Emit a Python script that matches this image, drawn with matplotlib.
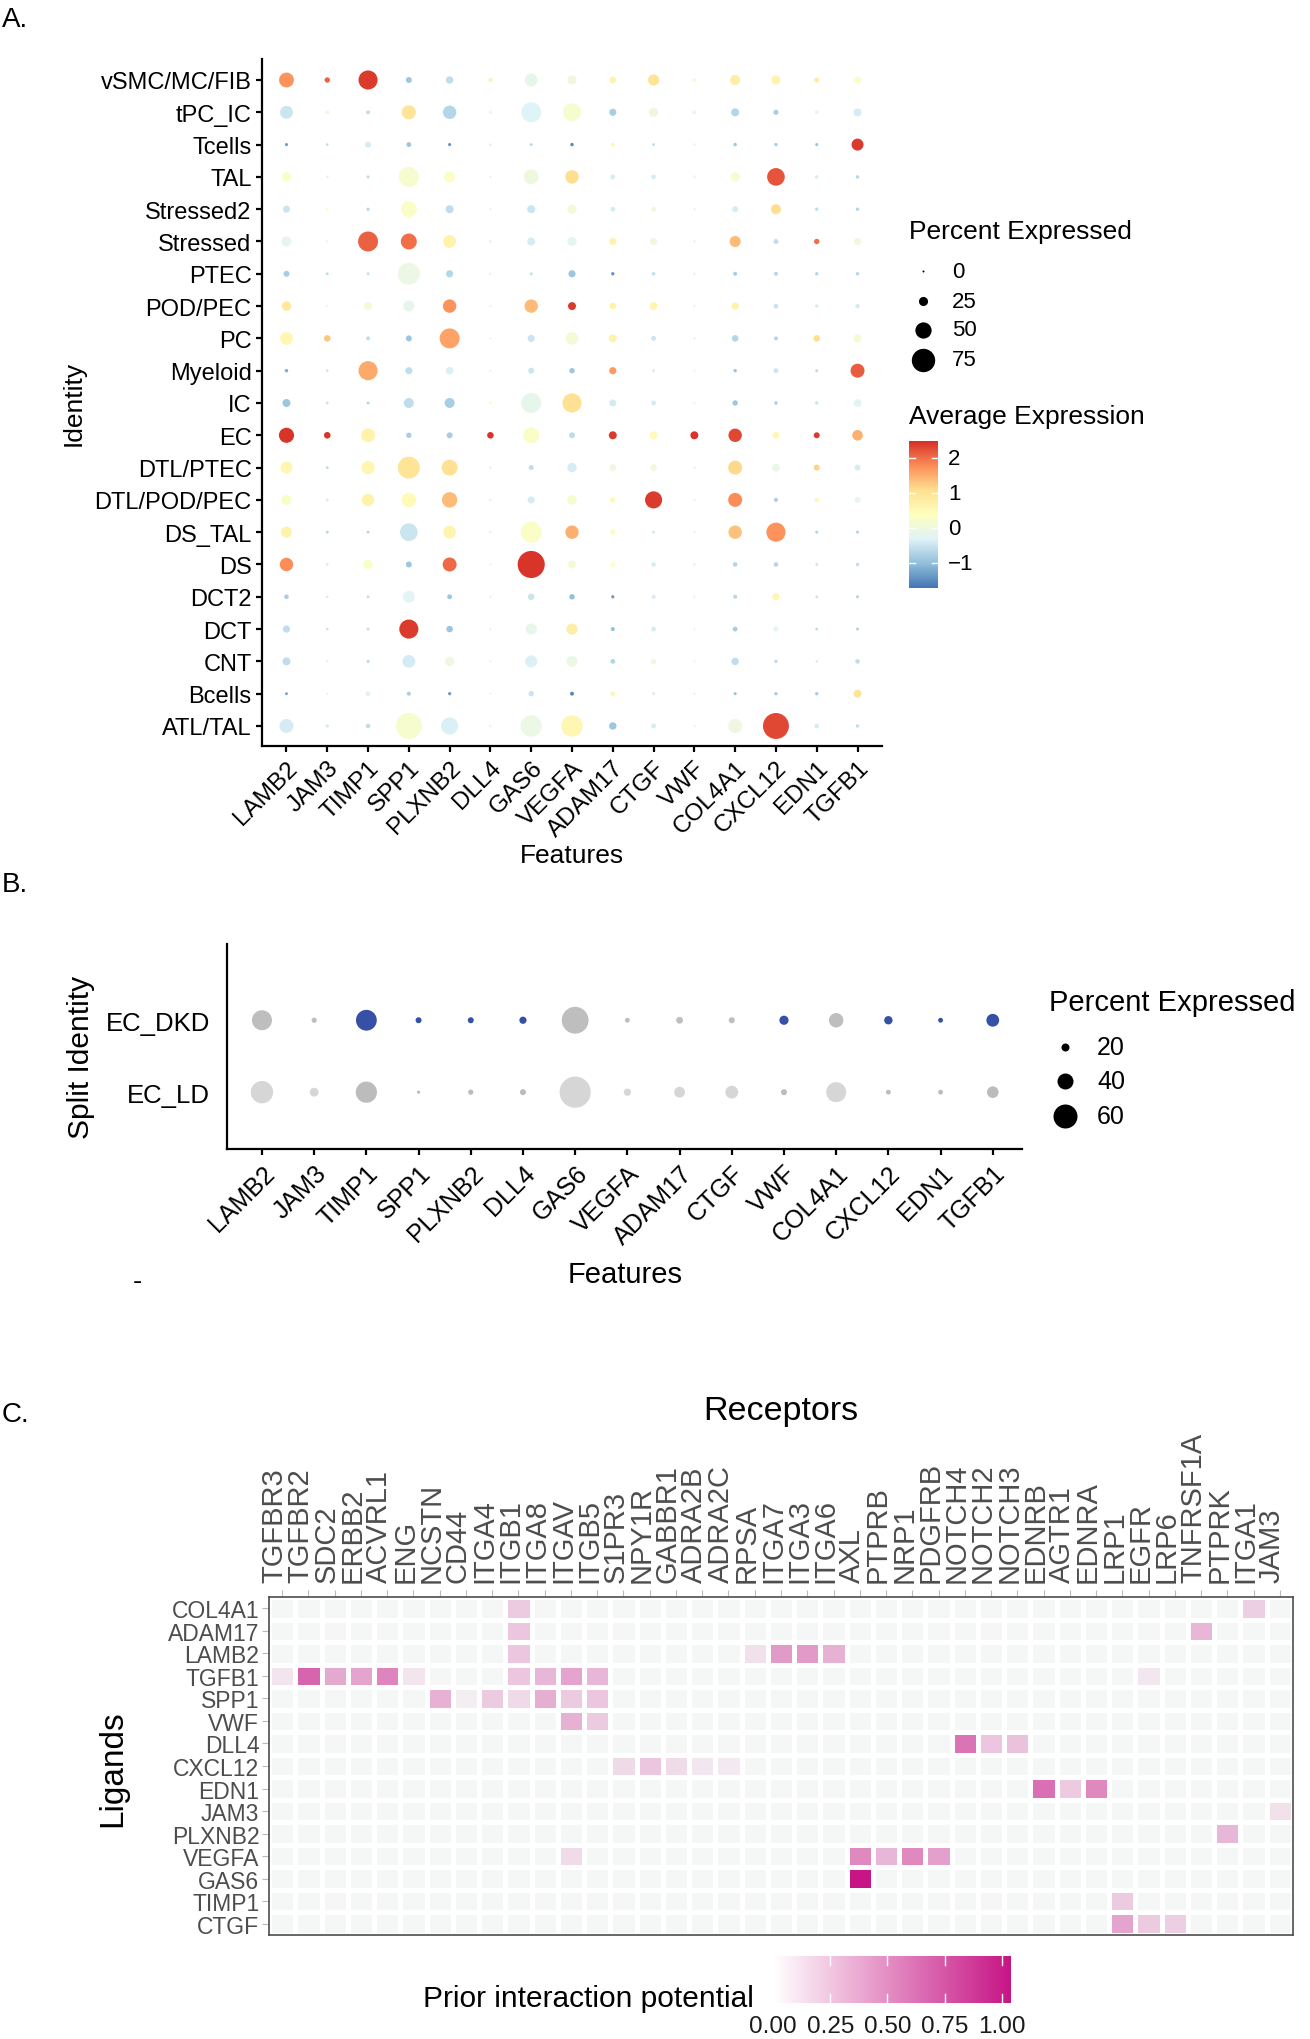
import numpy as np
import matplotlib
matplotlib.use("Agg")
import matplotlib.pyplot as plt
from matplotlib.colors import LinearSegmentedColormap, Normalize

plt.rcParams['font.family'] = ['Liberation Sans', 'DejaVu Sans']

# ---------------- Panel A data ----------------
identities = ["vSMC/MC/FIB", "tPC_IC", "Tcells", "TAL", "Stressed2", "Stressed", "PTEC",
              "POD/PEC", "PC", "Myeloid", "IC", "EC", "DTL/PTEC", "DTL/POD/PEC", "DS_TAL",
              "DS", "DCT2", "DCT", "CNT", "Bcells", "ATL/TAL"]
features = ["LAMB2", "JAM3", "TIMP1", "SPP1", "PLXNB2", "DLL4", "GAS6", "VEGFA", "ADAM17",
            "CTGF", "VWF", "COL4A1", "CXCL12", "EDN1", "TGFB1"]

pct_expressed = [
    [45, 12, 60, 14, 19, 7, 38, 25, 16, 32, 7, 28, 25, 11, 18],   # vSMC/MC/FIB
    [38, 6, 7, 42, 40, 5, 63, 56, 18, 25, 7, 21, 11, 7, 21],      # tPC_IC
    [4, 2, 14, 10, 4, 1, 3, 5, 6, 3, 2, 5, 5, 4, 35],             # Tcells
    [25, 3, 4, 63, 32, 1, 45, 40, 10, 9, 4, 25, 55, 5, 5],        # TAL
    [18, 2, 4, 49, 21, 1, 21, 25, 10, 10, 3, 14, 28, 5, 5],       # Stressed2
    [28, 2, 63, 49, 38, 2, 21, 25, 18, 18, 3, 32, 10, 12, 18],    # Stressed
    [14, 3, 3, 70, 18, 1, 3, 18, 5, 5, 3, 7, 7, 5, 5],            # PTEC
    [26, 2, 21, 32, 40, 1, 40, 21, 16, 21, 3, 19, 10, 5, 9],      # POD/PEC
    [38, 16, 7, 14, 63, 1, 18, 37, 21, 10, 3, 16, 7, 16, 21],     # PC
    [5, 2, 60, 18, 19, 1, 14, 12, 18, 3, 2, 5, 10, 4, 42],        # Myeloid
    [21, 3, 3, 28, 28, 3, 63, 60, 18, 10, 3, 12, 5, 5, 21],       # IC
    [46, 16, 42, 12, 14, 16, 49, 14, 21, 21, 21, 40, 16, 14, 30], # EC
    [35, 3, 40, 70, 49, 2, 10, 26, 16, 16, 2, 42, 21, 14, 14],    # DTL/PTEC
    [28, 3, 37, 44, 47, 2, 18, 26, 12, 53, 2, 42, 7, 7, 14],      # DTL/POD/PEC
    [32, 3, 3, 55, 38, 2, 67, 40, 12, 3, 2, 40, 60, 4, 4],        # DS_TAL
    [40, 2, 25, 14, 42, 1, 88, 21, 10, 9, 3, 9, 9, 3, 5],         # DS
    [9, 2, 3, 35, 10, 1, 16, 12, 4, 7, 2, 7, 18, 3, 4],           # DCT2
    [18, 2, 3, 60, 16, 1, 32, 32, 7, 10, 2, 10, 9, 3, 4],         # DCT
    [21, 2, 3, 38, 25, 1, 35, 32, 10, 12, 2, 19, 4, 2, 9],        # CNT
    [3, 1, 10, 7, 4, 1, 12, 7, 9, 3, 2, 4, 5, 5, 21],             # Bcells
    [42, 5, 9, 84, 53, 2, 68, 68, 19, 10, 3, 42, 84, 9, 5],       # ATL/TAL
]
avg_expression = [
    [1.75, 2.1, 2.4, -0.9, -0.6, 0.7, -0.15, 0.0, 0.7, 1.0, 0.1, 0.8, 0.7, 0.8, 0.3],
    [-0.5, 0.0, -0.6, 1.0, -0.7, 0.0, -0.3, 0.2, -0.8, 0.0, 0.0, -0.7, -0.8, -0.1, -0.4],
    [-1.3, -0.6, -0.4, -0.9, -1.4, -0.4, -0.7, -1.5, 0.6, -0.6, 0.0, -0.9, -0.8, -0.9, 2.4],
    [0.3, -0.3, -0.6, 0.2, 0.3, -0.3, 0.0, 1.1, -0.4, -0.4, 0.0, 0.2, 2.2, -0.4, -0.7],
    [-0.5, 0.3, -0.7, 0.3, -0.6, -0.2, -0.5, 0.1, -0.4, 0.0, 0.0, -0.4, 1.1, -0.6, -0.7],
    [-0.15, 0.1, 2.1, 2.0, 0.7, -0.3, -0.4, -0.2, 0.7, 0.0, 0.0, 1.4, -0.6, 2.0, 0.05],
    [-0.8, -0.6, -0.6, -0.05, -0.7, -0.3, -0.6, -0.9, -1.4, -0.6, 0.0, -0.8, -0.7, -0.7, -0.7],
    [0.9, 0.1, 0.1, -0.15, 1.75, -0.2, 1.4, 2.4, 0.7, 0.6, 0.0, 0.7, -0.5, -0.4, -0.4],
    [0.6, 1.3, -0.6, -0.9, 1.6, -0.2, -0.5, 0.1, 0.7, -0.5, 0.0, -0.7, -0.7, 1.1, 0.1],
    [-1.2, -0.5, 1.55, -0.6, -0.35, -0.2, -0.5, -0.9, 1.7, -0.4, 0.0, -0.9, -0.5, -0.6, 2.15],
    [-0.9, -0.5, -0.7, -0.6, -0.8, 0.5, -0.15, 1.05, -0.4, -0.4, 0.0, -0.9, -0.8, -0.5, -0.25],
    [2.45, 2.45, 0.7, -0.8, -0.8, 2.45, 0.3, -0.6, 2.4, 0.5, 2.45, 2.3, 0.6, 2.4, 1.5],
    [0.6, -0.6, 0.6, 1.0, 1.05, -0.2, -0.6, -0.4, 0.0, 0.05, 0.0, 1.15, -0.1, 1.2, -0.4],
    [0.3, -0.4, 0.7, 0.5, 1.4, -0.2, -0.4, 0.2, 0.5, 2.4, 0.0, 1.8, -0.8, 0.6, -0.2],
    [0.7, -0.7, -0.7, -0.5, 0.65, -0.2, 0.3, 1.5, 0.3, -0.5, 0.0, 1.35, 1.75, -0.7, -0.7],
    [1.8, -0.4, 0.3, -0.9, 2.05, -0.3, 2.45, 0.1, 0.4, -0.4, -0.1, -0.7, -0.7, -0.5, -0.6],
    [-0.8, -0.4, -0.6, -0.25, -0.9, -0.3, -0.5, -1.0, -1.4, -0.4, -0.1, -0.7, 0.6, -0.5, -0.7],
    [-0.6, -0.5, -0.6, 2.4, -0.9, -0.3, -0.15, 0.8, -1.0, -0.4, -0.1, -0.8, -0.3, -0.6, -0.7],
    [-0.6, -0.2, -0.7, -0.4, 0.0, -0.3, -0.35, -0.05, -0.7, 0.0, 0.0, -0.6, -0.7, -0.4, -0.6],
    [-1.3, -0.2, -0.3, -0.8, -1.4, -0.2, -0.5, -1.5, 0.6, -0.4, -0.1, -0.9, -0.8, -0.8, 1.0],
    [-0.4, -0.4, -0.6, 0.2, -0.35, -0.2, -0.05, 0.6, -0.9, -0.4, 0.0, -0.05, 2.3, -0.4, -0.6],
]
size_breaks_A = [0, 25, 50, 75]
color_breaks_A = [-1, 0, 1, 2]
color_limits_A = [-1.71, 2.49]

# ---------------- Panel B data ----------------
split_groups = ["EC_DKD", "EC_LD"]
pct_DKD = [50, 13, 52, 15, 15, 18, 67, 12, 17, 15, 23, 36, 21, 12, 32]
pct_LD = [56, 22, 53, 8, 13, 15, 78, 18, 27, 32, 15, 50, 12, 12, 29]
scaled_DKD = [0, 0, 1, 1, 1, 1, 0, 0, 0, 0, 1, 0, 1, 1, 1]
scaled_LD = [0, 0, 1, 1, 1, 1, 0, 0, 0, 0, 1, 0, 1, 1, 1]
size_breaks_B = [20, 40, 60]

# ---------------- Panel C data ----------------
ligands = ["COL4A1", "ADAM17", "LAMB2", "TGFB1", "SPP1", "VWF", "DLL4", "CXCL12", "EDN1",
           "JAM3", "PLXNB2", "VEGFA", "GAS6", "TIMP1", "CTGF"]
receptors = ["TGFBR3", "TGFBR2", "SDC2", "ERBB2", "ACVRL1", "ENG", "NCSTN", "CD44", "ITGA4",
             "ITGB1", "ITGA8", "ITGAV", "ITGB5", "S1PR3", "NPY1R", "GABBR1", "ADRA2B", "ADRA2C",
             "RPSA", "ITGA7", "ITGA3", "ITGA6", "AXL", "PTPRB", "NRP1", "PDGFRB", "NOTCH4",
             "NOTCH2", "NOTCH3", "EDNRB", "AGTR1", "EDNRA", "LRP1", "EGFR", "LRP6", "TNFRSF1A",
             "PTPRK", "ITGA1", "JAM3"]
link_ligand = ["COL4A1", "COL4A1",
               "ADAM17", "ADAM17",
               "LAMB2", "LAMB2", "LAMB2", "LAMB2", "LAMB2",
               "TGFB1", "TGFB1", "TGFB1", "TGFB1", "TGFB1", "TGFB1", "TGFB1", "TGFB1", "TGFB1", "TGFB1", "TGFB1",
               "SPP1", "SPP1", "SPP1", "SPP1", "SPP1", "SPP1", "SPP1",
               "VWF", "VWF",
               "DLL4", "DLL4", "DLL4",
               "CXCL12", "CXCL12", "CXCL12", "CXCL12", "CXCL12",
               "EDN1", "EDN1", "EDN1",
               "JAM3", "PLXNB2",
               "VEGFA", "VEGFA", "VEGFA", "VEGFA", "VEGFA",
               "GAS6", "TIMP1",
               "CTGF", "CTGF", "CTGF"]
link_receptor = ["ITGB1", "ITGA1",
                 "ITGB1", "TNFRSF1A",
                 "ITGB1", "RPSA", "ITGA7", "ITGA3", "ITGA6",
                 "TGFBR3", "TGFBR2", "SDC2", "ERBB2", "ACVRL1", "ENG", "ITGB1", "ITGA8", "ITGAV", "ITGB5", "EGFR",
                 "NCSTN", "CD44", "ITGA4", "ITGB1", "ITGA8", "ITGAV", "ITGB5",
                 "ITGAV", "ITGB5",
                 "NOTCH4", "NOTCH2", "NOTCH3",
                 "S1PR3", "NPY1R", "GABBR1", "ADRA2B", "ADRA2C",
                 "EDNRB", "AGTR1", "EDNRA",
                 "JAM3", "PTPRK",
                 "ITGAV", "AXL", "PTPRB", "NRP1", "PDGFRB",
                 "AXL", "LRP1",
                 "LRP1", "EGFR", "LRP6"]
link_potential = [0.20, 0.18,
                  0.22, 0.30,
                  0.22, 0.10, 0.42, 0.42, 0.32,
                  0.08, 0.67, 0.36, 0.38, 0.52, 0.08, 0.22, 0.30, 0.38, 0.30, 0.07,
                  0.32, 0.04, 0.20, 0.13, 0.33, 0.20, 0.22,
                  0.32, 0.20,
                  0.60, 0.22, 0.24,
                  0.13, 0.22, 0.12, 0.07, 0.06,
                  0.62, 0.20, 0.50,
                  0.10, 0.30,
                  0.12, 0.50, 0.30, 0.50, 0.40,
                  1.04, 0.20,
                  0.38, 0.20, 0.18]
potential_breaks = [0.00, 0.25, 0.50, 0.75, 1.00]
potential_max = 1.04

# ---------------- figure ----------------
W, H = 1310, 2040
fig = plt.figure(figsize=(W / 100, H / 100), dpi=100)


def px_axes(x0, y0, x1, y1, **kw):
    return fig.add_axes([x0 / W, 1 - y1 / H, (x1 - x0) / W, (y1 - y0) / H], **kw)


def size_A(p):
    d = 2.0 + 0.285 * np.asarray(p, dtype=float)
    return (d * 0.72) ** 2


def size_B(p):
    d = np.maximum(0.4 * np.asarray(p, dtype=float), 1.5)
    return (d * 0.72) ** 2


cmapA = LinearSegmentedColormap.from_list(
    "rdylbu7", ["#4575B4", "#91BFDB", "#E0F3F8", "#FFFFBF", "#FEE090", "#FC8D59", "#D73027"])
normA = Normalize(*color_limits_A)

# ---------- Panel A ----------
axA = px_axes(262, 60, 882, 747)
nI, nF = len(identities), len(features)
xs = np.tile(np.arange(nF), nI)
ys = np.repeat(np.arange(nI - 1, -1, -1), nF)
pA = np.array(pct_expressed).ravel()
cA = np.array(avg_expression).ravel()
axA.scatter(xs, ys, s=size_A(pA), c=cA, cmap=cmapA, norm=normA, linewidths=0, zorder=3)
axA.set_xlim(-0.6, nF - 0.4)
axA.set_ylim(-0.62, nI - 1 + 0.65)
axA.set_yticks(np.arange(nI - 1, -1, -1))
axA.set_yticklabels(identities, fontsize=17)
axA.set_xticks(np.arange(nF))
axA.set_xticklabels(features, fontsize=17.5, rotation=45, ha='right', va='top', rotation_mode='anchor')
for s in ['top', 'right']:
    axA.spines[s].set_visible(False)
for s in ['left', 'bottom']:
    axA.spines[s].set_linewidth(1.6)
    axA.spines[s].set_color('black')
axA.tick_params(length=4.5, width=1.6, color='black', pad=3)

# colourbar A
cbA = px_axes(909, 442, 938, 589)
grad = np.linspace(color_limits_A[0], color_limits_A[1], 256)[:, None]
cbA.imshow(grad, aspect='auto', cmap=cmapA, norm=normA, origin='lower',
           extent=[0, 1, color_limits_A[0], color_limits_A[1]])
for v in color_breaks_A:
    cbA.plot([0, 0.2], [v, v], color='white', lw=1)
    cbA.plot([0.8, 1], [v, v], color='white', lw=1)
    cbA.text(1.35, v, ("\u2212" + str(abs(v))) if v < 0 else str(v), ha='left', va='center', fontsize=16)
cbA.set_xlim(0, 1)
cbA.set_ylim(*color_limits_A)
cbA.set_axis_off()

# ---------- Panel B ----------
axB = px_axes(227, 945, 1022, 1150)
cmap_dkd = LinearSegmentedColormap.from_list("dkd", ["#BEBEBE", "#3550A5"])
cmap_ld = LinearSegmentedColormap.from_list("ld", ["#D6D6D6", "#BCBCBC"])
xb = np.arange(nF)
axB.scatter(xb, np.ones(nF), s=size_B(pct_DKD), c=scaled_DKD, cmap=cmap_dkd, vmin=0, vmax=1, linewidths=0, zorder=3)
axB.scatter(xb, np.zeros(nF), s=size_B(pct_LD), c=scaled_LD, cmap=cmap_ld, vmin=0, vmax=1, linewidths=0, zorder=3)
axB.set_xlim(-0.67, nF - 1 + 0.56)
axB.set_ylim(-0.79, 2.06)
axB.set_yticks([1, 0])
axB.set_yticklabels(split_groups, fontsize=18.5)
axB.set_xticks(xb)
axB.set_xticklabels(features, fontsize=18, rotation=45, ha='right', va='top', rotation_mode='anchor')
for s in ['top', 'right']:
    axB.spines[s].set_visible(False)
for s in ['left', 'bottom']:
    axB.spines[s].set_linewidth(1.6)
axB.tick_params(length=4.5, width=1.6, color='black', pad=4)
axB.tick_params(axis='y', length=0, pad=12)

# ---------- Panel C ----------
axC = px_axes(269, 1598, 1293, 1936)
nL, nR = len(ligands), len(receptors)
mat = np.zeros((nL, nR))
for lg, rc, v in zip(link_ligand, link_receptor, link_potential):
    mat[ligands.index(lg), receptors.index(rc)] = v
cmapC = LinearSegmentedColormap.from_list("pip", ["#F5F6F6", "#C71585"])
axC.pcolormesh(np.arange(nR + 1), np.arange(nL + 1), mat, cmap=cmapC, vmin=0, vmax=potential_max,
               edgecolors='white', linewidth=2.2)
axC.set_xlim(0, nR)
axC.set_ylim(nL, 0)
axC.xaxis.tick_top()
axC.set_xticks(np.arange(nR) + 0.5)
axC.set_xticklabels(receptors, rotation=90, fontsize=21, color='#4D4D4D',
                    ha='left', va='baseline', rotation_mode='anchor')
axC.set_yticks(np.arange(nL) + 0.5)
axC.set_yticklabels(ligands, fontsize=16.5, color='#4D4D4D')
for s in axC.spines.values():
    s.set_color('#4D4D4D')
    s.set_linewidth(1.2)
axC.tick_params(length=5, width=0.8, color='#BBBBBB', pad=2)
axC.tick_params(axis='x', pad=6)

# colourbar C
cbC = px_axes(773, 1957, 1011, 2004)
gx = np.linspace(0, potential_max, 256)[None, :]
cbC.imshow(gx, aspect='auto', cmap=LinearSegmentedColormap.from_list("pipbar", ["#FFFFFF", "#C71585"]),
           vmin=0, vmax=potential_max, extent=[0, potential_max, 0, 1])
for v in potential_breaks:
    if v > 0:
        cbC.plot([v, v], [0, 0.2], color='white', lw=1)
        cbC.plot([v, v], [0.8, 1], color='white', lw=1)
    cbC.text(v, -0.5, f"{v:.2f}", ha='center', va='center', fontsize=17.5, color='#1A1A1A')
cbC.set_xlim(0, potential_max)
cbC.set_ylim(0, 1)
cbC.set_axis_off()

# ---------- overlay: titles, labels, legends ----------
ov = fig.add_axes([0, 0, 1, 1], zorder=10)
ov.set_xlim(0, W)
ov.set_ylim(H, 0)
ov.axis('off')

ov.text(2, 20, "A.", fontsize=20, ha='left', va='center')
ov.text(2, 885, "B.", fontsize=20, ha='left', va='center')
ov.text(2, 1415, "C.", fontsize=20, ha='left', va='center')

ov.text(572, 856, "Features", fontsize=19, ha='center', va='center')
ov.text(74, 403, "Identity", fontsize=19, ha='center', va='center', rotation=90)

ov.text(909, 232, "Percent Expressed", fontsize=19, ha='left', va='center')
for b, yy in zip(size_breaks_A, [272, 302, 331, 361]):
    ov.scatter([923], [yy], s=size_A(b), color='black', linewidths=0)
    ov.text(952, yy, str(b), fontsize=16, ha='left', va='center')
ov.text(909, 417, "Average Expression", fontsize=19, ha='left', va='center')

ov.text(625, 1275, "Features", fontsize=21, ha='center', va='center')
ov.text(81, 1057, "Split Identity", fontsize=21.5, ha='center', va='center', rotation=90)
ov.text(137, 1282, "-", fontsize=20, ha='center', va='center')
ov.text(1049, 1003, "Percent Expressed", fontsize=21, ha='left', va='center')
for b, yy in zip(size_breaks_B, [1048, 1082, 1117]):
    ov.scatter([1065], [yy], s=size_B(b), color='black', linewidths=0)
    ov.text(1097, yy, str(b), fontsize=18, ha='left', va='center')

ov.text(781, 1412, "Receptors", fontsize=24.5, ha='center', va='center')
ov.text(113, 1769, "Ligands", fontsize=24, ha='center', va='center', rotation=90)
ov.text(588, 1999, "Prior interaction potential", fontsize=21.5, ha='center', va='center')

fig.savefig("out.png", dpi=100)
